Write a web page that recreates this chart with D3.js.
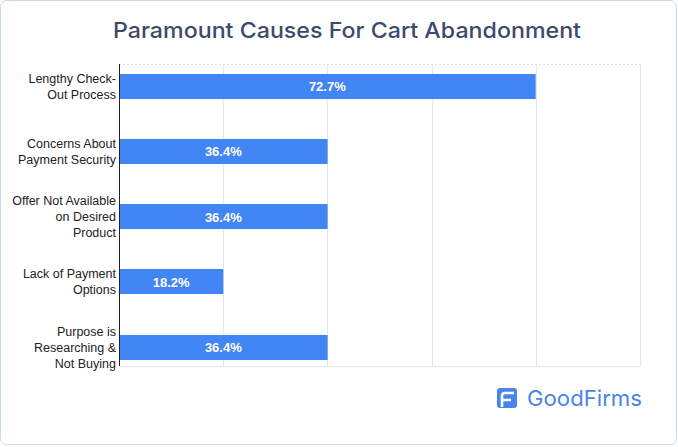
<!DOCTYPE html>
<html><head><meta charset="utf-8">
<script src="https://cdn.jsdelivr.net/npm/d3@7"></script>
<style>body{margin:0;background:#fff;}svg{display:block;}</style>
</head><body>
<script>
const categories = [
  ["Lengthy Check-", "Out Process"],
  ["Concerns About", "Payment Security"],
  ["Offer Not Available", "on Desired", "Product"],
  ["Lack of Payment", "Options"],
  ["Purpose is", "Researching &", "Not Buying"]
];
const values = [72.7, 36.4, 36.4, 18.2, 36.4];
const valueLabels = ["72.7%", "36.4%", "36.4%", "18.2%", "36.4%"];
const tickValues = [0, 18.18, 36.36, 54.54, 72.72, 90.9];
const title = "Paramount Causes For Cart Abandonment";

(function () {
const W = 678, H = 447;
const svg = d3.select("body").append("svg").attr("width", W).attr("height", H);

svg.append("rect").attr("x", 0.5).attr("y", 0.5).attr("width", W - 2).attr("height", H - 3)
  .attr("rx", 6).attr("fill", "#fff").attr("stroke", "#c8d8ee");

svg.append("text").attr("x", 347).attr("y", 38).attr("text-anchor", "middle")
  .attr("font-family", "Inter, Lato, sans-serif").attr("font-size", 22).attr("font-weight", 500)
  .attr("fill", "#3e4a6b").attr("textLength", 468).attr("lengthAdjust", "spacingAndGlyphs").text(title);

const x = d3.scaleLinear().domain([0, 90.9]).range([119, 640]);
const y = d3.scalePoint().domain(d3.range(categories.length)).range([86, 347]);
const plotTop = 64, plotBottom = 366, barH = 25;

svg.append("g").selectAll("line").data(tickValues.slice(1)).join("line")
  .attr("x1", d => Math.round(x(d)) + 0.5).attr("x2", d => Math.round(x(d)) + 0.5)
  .attr("y1", plotTop).attr("y2", plotBottom).attr("stroke", "#e6e6e6");
svg.append("line").attr("x1", 119).attr("x2", 640).attr("y1", plotTop + 0.5).attr("y2", plotTop + 0.5)
  .attr("stroke", "#dddddd").attr("stroke-dasharray", "2,2");
svg.append("line").attr("x1", 119).attr("x2", 640).attr("y1", plotBottom + 0.5).attr("y2", plotBottom + 0.5)
  .attr("stroke", "#e6e6e6");

svg.append("g").selectAll("rect").data(values).join("rect")
  .attr("x", x(0)).attr("y", (d, i) => Math.round(y(i) - barH / 2))
  .attr("width", d => x(d) - x(0)).attr("height", barH).attr("fill", "#4285f4");

svg.append("g").selectAll("text").data(values).join("text")
  .attr("x", d => (x(0) + x(d)) / 2).attr("y", (d, i) => y(i) + 5)
  .attr("text-anchor", "middle").attr("font-family", "'Liberation Sans', Arial, sans-serif")
  .attr("font-size", 13).attr("font-weight", "bold").attr("fill", "#fff")
  .text((d, i) => valueLabels[i]);

svg.append("line").attr("x1", 119.5).attr("x2", 119.5).attr("y1", plotTop).attr("y2", plotBottom)
  .attr("stroke", "#222");

const lab = svg.append("g").attr("font-family", "'Liberation Sans', Arial, sans-serif")
  .attr("font-size", 12.5).attr("fill", "#222").attr("text-anchor", "end");
categories.forEach((lines, i) => {
  const lh = 16;
  const y0 = y(i) - (lines.length - 1) * lh / 2;
  lines.forEach((t, j) => {
    lab.append("text").attr("x", 116).attr("y", y0 + j * lh + 4.5).text(t);
  });
});

const lg = svg.append("g");
lg.append("rect").attr("x", 497).attr("y", 388).attr("width", 20).attr("height", 20).attr("rx", 3).attr("fill", "#4a86e8");
lg.append("path").attr("d", "M502,407 V396 Q502,393 505,393 H514 M502,400 H511")
  .attr("fill", "none").attr("stroke", "#fff").attr("stroke-width", 2.6);
lg.append("text").attr("x", 527).attr("y", 406).attr("font-family", "Inter, Lato, sans-serif")
  .attr("font-size", 22).attr("font-weight", 400).attr("fill", "#4a86e8")
  .attr("textLength", 115).attr("lengthAdjust", "spacingAndGlyphs").text("GoodFirms");
})();
</script>
</body></html>
